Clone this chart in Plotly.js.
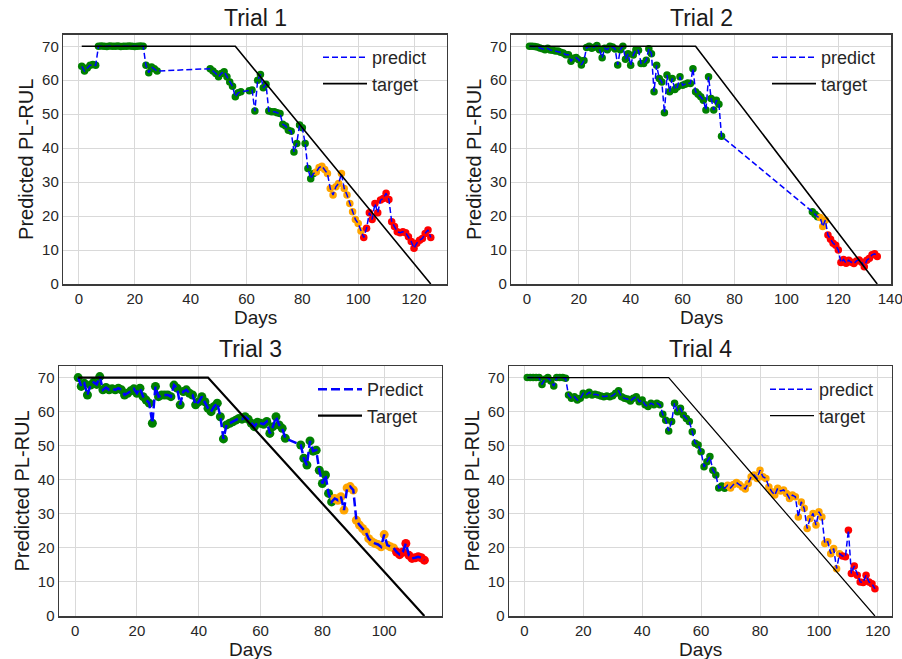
<!DOCTYPE html>
<html>
<head>
<meta charset="utf-8">
<script src="https://cdn.plot.ly/plotly-3.0.1.min.js"></script>
<style>html,body{margin:0;padding:0;background:#fff;}</style>
</head>
<body>
<div id="chart" style="width:902px;height:659px;"></div>
<script>
// ---------- Trial 1 ----------
const days1 = [1,2,3,4,5,6,7,8,9,10,11,12,13,14,15,16,17,18,19,20,21,22,23,24,25,26,27,28,
  47,48,49,50,51,52,53,54,55,56,57,58,
  61,62,63,64,65,66,67,68,69,70,71,72,73,74,75,76,77,78,79,80,81,82,83,84,85,86,87,88,89,90,
  91,92,93,94,95,96,97,98,99,100,101,102,103,104,105,106,107,108,109,110,111,112,113,114,115,
  116,117,118,119,120,121,122,123,124,125,126];
const pred1 = [64.1,62.7,63.6,64.4,64.6,64.4,
  70.0,70.1,70.0,69.9,70.1,70.0,70.0,70.1,69.9,70.0,70.0,70.1,70.0,69.9,70.0,70.1,70.0,
  64.4,62.2,63.9,63.4,62.7,
  63.4,62.7,62.0,61.0,62.0,62.5,61.0,59.5,58.2,55.1,56.3,56.6,
  56.9,57.1,50.9,60.0,61.7,57.8,58.8,50.9,50.7,50.7,50.4,50.2,47.0,46.5,45.3,45.0,38.9,41.4,
  46.8,46.0,41.4,34.0,31.0,32.5,33.0,34.3,34.7,33.7,32.5,28.1,26.2,28.6,29.6,32.5,28.1,26.2,
  23.7,21.3,19.0,17.8,15.6,13.7,16.4,21.0,19.0,23.7,21.0,24.7,25.2,26.7,24.9,18.3,16.9,15.4,
  15.1,15.4,15.1,13.9,12.5,10.5,12.0,12.9,13.4,14.9,15.9,13.7];
const targetDays1 = [1, 56, 126];
const targetVals1 = [70, 70, 0];

// ---------- Trial 2 ----------
const days2 = [1,2,3,4,5,6,7,8,9,10,11,12,13,14,15,16,17,18,19,20,21,22,23,24,25,26,27,28,29,30,
  31,32,33,34,35,36,37,38,39,40,41,42,43,44,45,46,47,48,49,50,51,52,53,54,55,56,57,58,59,60,
  61,62,63,64,65,66,67,68,69,70,71,72,73,74,75,
  110,111,112,113,114,115,116,117,118,119,120,121,122,123,124,125,126,127,128,129,130,131,132,
  133,134,135];
const pred2 = [70.0,70.0,69.9,69.8,69.5,69.3,69.0,69.4,68.9,68.8,68.6,68.6,68.2,68.0,67.5,67.5,
  65.6,66.5,66.7,66.0,64.5,65.8,69.6,70.0,69.4,69.7,70.2,69.0,66.6,69.4,69.0,70.0,69.8,69.2,
  64.5,69.0,70.0,66.2,67.8,64.4,67.4,69.0,68.8,64.9,64.9,65.9,69.3,67.8,56.6,64.4,60.5,59.5,
  50.4,61.5,56.6,60.5,57.3,58.0,61.0,58.5,58.8,59.2,59.0,63.4,56.6,55.9,55.1,54.1,51.2,61.0,
  54.6,51.2,54.1,52.9,43.5,
  21.3,20.5,19.8,19.6,16.9,18.8,14.4,13.2,12.0,11.4,10.0,6.3,7.2,6.1,7.0,6.4,6.0,6.8,7.1,6.4,
  5.1,7.0,7.6,8.6,8.9,8.1];
const targetDays2 = [1, 65, 135];
const targetVals2 = [70, 70, 0];

// ---------- Trial 3 ----------
const days3 = [1,2,3,4,5,6,7,8,9,10,11,12,13,14,15,16,17,18,19,20,21,22,23,24,25,26,27,28,29,30,
  31,32,33,34,35,36,37,38,39,40,41,42,43,44,45,46,47,48,49,50,51,52,53,54,55,56,57,58,59,60,
  61,62,63,64,65,66,67,68,
  73,74,75,76,77,78,79,80,81,82,83,84,85,86,87,88,89,90,91,92,93,94,95,96,97,98,99,100,
  101,102,103,104,105,106,107,108,109,110,111,112,113];
const pred3 = [70.0,67.4,68.3,64.9,67.8,68.6,68.0,70.3,66.4,67.1,66.4,66.7,66.4,66.9,66.4,64.9,
  65.4,66.1,66.7,65.4,66.9,64.4,63.4,62.5,56.6,67.4,64.4,64.9,64.9,64.9,64.4,67.8,66.9,62.0,
  65.9,66.4,65.4,64.9,62.0,62.9,64.4,62.9,61.0,60.0,61.5,62.5,58.5,52.0,56.1,56.6,57.0,57.5,
  58.0,57.8,58.5,57.8,56.6,55.6,56.9,56.6,56.3,57.1,53.6,55.6,58.5,56.1,55.1,52.2,
  50.2,46.3,44.3,51.4,48.4,48.7,42.8,38.9,41.4,36.0,33.5,34.5,34.0,35.0,31.1,37.6,38.0,37.0,
  28.1,26.7,25.7,24.7,22.7,21.8,21.3,21.0,20.3,23.9,20.8,20.3,20.0,18.8,18.0,18.8,21.3,17.8,
  16.9,17.1,17.4,17.1,16.4];
const targetDays3 = [1, 43, 113];
const targetVals3 = [70, 70, 0];

// ---------- Trial 4 ----------
const days4 = [1,2,3,4,5,6,7,8,9,10,11,12,13,14,15,16,17,18,19,20,21,22,23,24,25,26,27,28,29,30,
  31,32,33,34,35,36,37,38,39,40,41,42,43,44,45,46,47,48,49,50,51,52,53,54,55,56,57,58,59,60,
  61,62,63,64,65,66,67,68,69,70,71,72,73,74,75,76,77,78,79,80,81,82,83,84,85,86,87,88,89,90,
  91,92,93,94,95,96,97,98,99,100,101,102,103,104,105,106,107,108,109,110,111,112,113,114,115,
  116,117,118,119];
const pred4 = [70,70,70,70,70,68,69.5,70,69,67.5,70,70,70,69.8,64.9,63.9,64.4,63.4,63.9,65.4,
  64.9,65.7,64.9,65.1,64.9,64.6,64.4,64.6,64.4,64.7,65.4,66.1,64.4,63.9,63.7,63.1,63.9,64.4,
  62.9,63.4,62.0,61.5,62.5,62.0,62.5,62.0,59.2,57.5,54.3,57.1,62.5,60.0,61.0,59.0,58.0,57.1,
  54.1,50.7,50.2,48.2,43.8,45.3,46.8,42.8,41.4,37.6,38.2,37.5,38.4,37.6,38.6,39.2,38.6,37.9,
  37.3,38.9,40.9,41.4,40.4,42.8,40.9,40.4,37.9,36.5,35.5,37.5,36.7,37.0,36.0,34.5,35.5,35.0,
  29.1,33.5,31.6,25.7,28.6,30.1,26.7,30.6,29.1,21.3,21.8,18.3,19.8,13.9,18.3,17.6,17.4,25.2,
  12.5,14.7,12.0,10.0,9.8,12.0,10.0,9.5,8.0];
const targetDays4 = [1, 49, 119];
const targetVals4 = [70, 70, 0];

// Days from which a prediction is coloured orange / red
const orangeFrom = [85, 113, 84, 69];
const redFrom = [102, 116, 104, 108];

const trialTitles = ['Trial 1', 'Trial 2', 'Trial 3', 'Trial 4'];
const legendNames = [['predict','target'], ['predict','target'], ['Predict','Target'], ['predict','target']];
const xLabel = 'Days';
const yLabel = 'Predicted PL-RUL';
const xTickVals = [0, 20, 40, 60, 80, 100, 120, 140];
const yTickVals = [0, 10, 20, 30, 40, 50, 60, 70];

// ---------- drawing ----------
const FONT = 'Liberation Sans, Arial, Helvetica, sans-serif';
const series = [
  {days: days1, pred: pred1, td: targetDays1, tv: targetVals1},
  {days: days2, pred: pred2, td: targetDays2, tv: targetVals2},
  {days: days3, pred: pred3, td: targetDays3, tv: targetVals3},
  {days: days4, pred: pred4, td: targetDays4, tv: targetVals4}
];
const predWidth = [1.5, 1.5, 2.5, 1.5];
const predDash = ['6px,3px', '6px,3px', '9px,4px', '6px,3px'];
const targetWidth = [1.6, 1.6, 2.2, 1.2];
const markerSize = [7.5, 7.5, 9, 7.5];
const xRanges = [[-5.6, 131.7], [-6.0, 140.3], [-5.2, 118.6], [-5.2, 124.7]];
const domX = [[63.3, 446.7], [511.3, 891.0], [59.0, 441.7], [509.0, 891.7]];
const domY = [[34.7, 284], [34.7, 284], [366, 616], [366, 616]];
const legendPos = [[318, 39], [767, 39], [313, 371], [765, 371]];
const W = 902, H = 659;

const traces = [];
const layout = {
  width: W, height: H,
  margin: {l: 0, r: 0, t: 0, b: 0},
  paper_bgcolor: '#ffffff', plot_bgcolor: '#ffffff',
  font: {family: FONT, color: '#262626'},
  annotations: []
};

series.forEach((s, i) => {
  const n = i === 0 ? '' : String(i + 1);
  const xa = 'x' + n, ya = 'y' + n;
  const legendId = 'legend' + n;
  const colors = s.days.map(d => d >= redFrom[i] ? '#ff0000' : (d >= orangeFrom[i] ? '#ffa500' : '#008000'));

  // coloured prediction points, with the dashed prediction line over them
  traces.push({
    type: 'scatter', mode: 'markers', x: s.days, y: s.pred, xaxis: xa, yaxis: ya,
    marker: {color: colors, size: markerSize[i], line: {width: 0}},
    showlegend: false, hoverinfo: 'skip'
  });
  traces.push({
    type: 'scatter', mode: 'lines', x: s.days, y: s.pred, xaxis: xa, yaxis: ya,
    name: legendNames[i][0], legend: legendId,
    line: {color: '#0000ff', width: predWidth[i], dash: predDash[i]}
  });
  traces.push({
    type: 'scatter', mode: 'lines', x: s.td, y: s.tv, xaxis: xa, yaxis: ya,
    name: legendNames[i][1], legend: legendId,
    line: {color: '#000000', width: targetWidth[i]}
  });

  const common = {
    showgrid: true, gridcolor: '#d9d9d9', gridwidth: 1, zeroline: false,
    showline: true, mirror: true, linecolor: '#3a3a3a', linewidth: 1.5,
    ticks: '', automargin: false, ticklabeloverflow: 'allow',
    tickfont: {family: FONT, size: 15, color: '#262626'}
  };
  layout['xaxis' + n] = Object.assign({}, common, {
    domain: [domX[i][0] / W, domX[i][1] / W], anchor: ya,
    range: xRanges[i], tickvals: xTickVals
  });
  layout['yaxis' + n] = Object.assign({}, common, {
    domain: [1 - domY[i][1] / H, 1 - domY[i][0] / H], anchor: xa,
    range: [0, 73.4], tickvals: yTickVals,
    title: {text: yLabel, font: {family: FONT, size: 20, color: '#1a1a1a'}, standoff: 3}
  });
  layout[legendId] = {
    x: legendPos[i][0] / W, y: 1 - legendPos[i][1] / H, xanchor: 'left', yanchor: 'top',
    bgcolor: 'rgba(0,0,0,0)', borderwidth: 0,
    font: {family: FONT, size: 18, color: '#262626'}, itemwidth: 44
  };
  const cx = (domX[i][0] + domX[i][1]) / 2 / W;
  // panel title
  layout.annotations.push({
    text: trialTitles[i], xref: 'paper', yref: 'paper',
    x: cx, y: 1 - (domY[i][0] - 17) / H,
    xanchor: 'center', yanchor: 'middle', showarrow: false,
    font: {family: FONT, size: 23, color: '#1a1a1a'}
  });
  // x-axis label under the tick labels
  layout.annotations.push({
    text: xLabel, xref: 'paper', yref: 'paper',
    x: cx, y: 1 - (domY[i][1] + 33) / H,
    xanchor: 'center', yanchor: 'middle', showarrow: false, borderpad: 0,
    font: {family: FONT, size: 19, color: '#1a1a1a'}
  });
});

Plotly.newPlot('chart', traces, layout, {staticPlot: true, displayModeBar: false});
</script>
</body>
</html>
